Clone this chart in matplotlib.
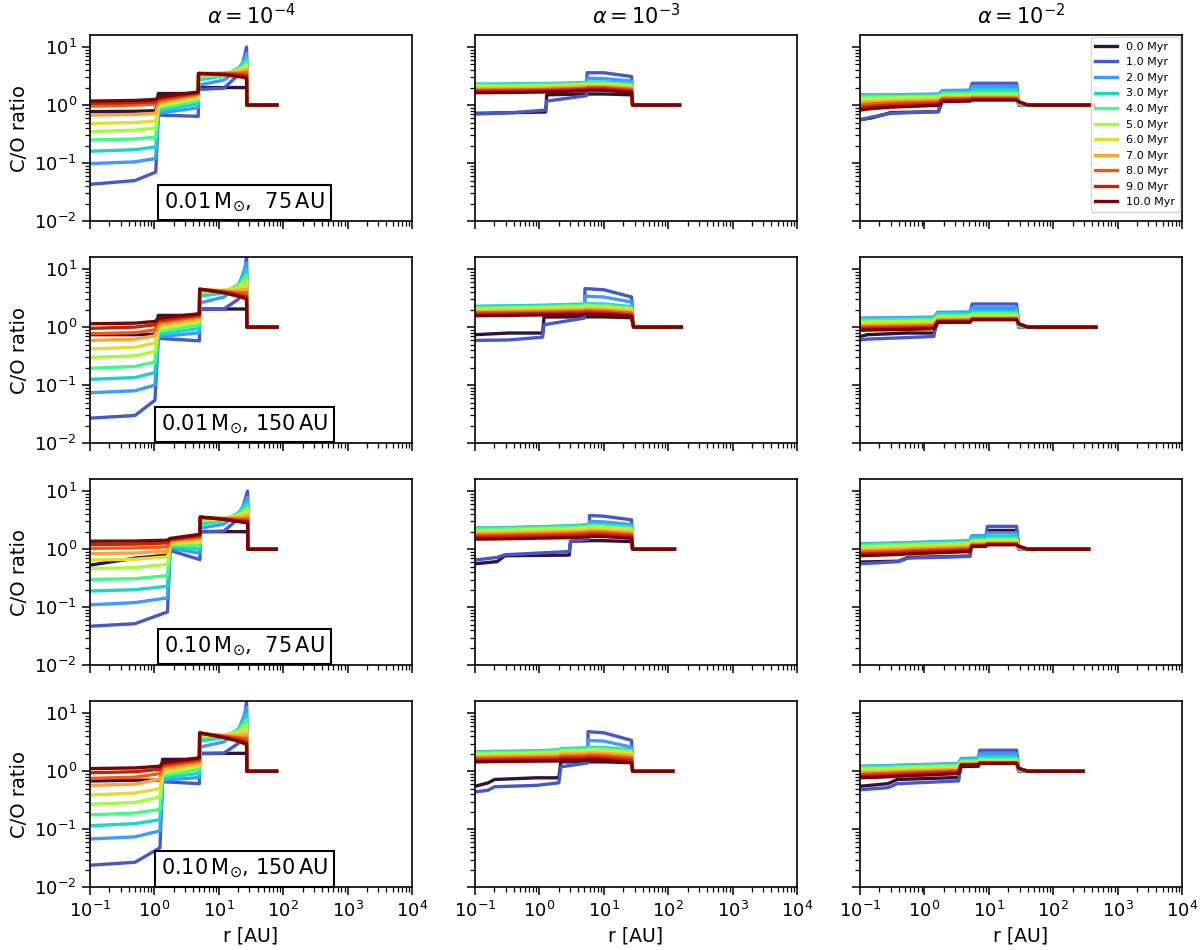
import matplotlib.pyplot as plt
import numpy as np

times = [0.0, 1.0, 2.0, 3.0, 4.0, 5.0, 6.0, 7.0, 8.0, 9.0, 10.0]
alpha_titles = [r"$\alpha = 10^{-4}$", r"$\alpha = 10^{-3}$", r"$\alpha = 10^{-2}$"]
disc_labels = [
    r"$0.01\,\mathrm{M}_{\odot}$,  $75\,\mathrm{AU}$",
    r"$0.01\,\mathrm{M}_{\odot}$, $150\,\mathrm{AU}$",
    r"$0.10\,\mathrm{M}_{\odot}$,  $75\,\mathrm{AU}$",
    r"$0.10\,\mathrm{M}_{\odot}$, $150\,\mathrm{AU}$",
]

# ---- alpha = 1e-4 (left column) ----
r_11 = [0.1, 0.5, 1.05, 1.15, 4.8, 4.85, 12, 20, 24, 27, 27.3, 80]
co_11 = [
    [0.77, 0.78, 0.80, 1.58, 1.58, 2.0, 2.0, 2.0, 2.0, 2.0, 1, 1],
    [0.043, 0.05, 0.07, 0.67, 0.64, 1.86, 1.95, 3.3, 5.6, 10.0, 1, 1],
    [0.098, 0.105, 0.12, 0.72, 0.9, 2.2, 2.7, 4.0, 5.5, 7.8, 1, 1],
    [0.16, 0.17, 0.19, 0.8, 1.05, 2.7, 3.2, 4.3, 5.3, 6.4, 1, 1],
    [0.25, 0.26, 0.28, 0.88, 1.2, 3.0, 3.3, 4.1, 4.8, 5.6, 1, 1],
    [0.35, 0.37, 0.40, 0.95, 1.3, 3.2, 3.4, 4.0, 4.5, 4.9, 1, 1],
    [0.48, 0.50, 0.53, 1.02, 1.4, 3.35, 3.5, 3.9, 4.2, 4.5, 1, 1],
    [0.67, 0.69, 0.72, 1.1, 1.5, 3.45, 3.5, 3.7, 3.85, 4.0, 1, 1],
    [0.96, 1.0, 1.04, 1.18, 1.55, 3.5, 3.5, 3.5, 3.55, 3.6, 1, 1],
    [1.07, 1.1, 1.14, 1.28, 1.62, 3.5, 3.4, 3.3, 3.27, 3.25, 1, 1],
    [1.17, 1.2, 1.25, 1.38, 1.68, 3.5, 3.35, 3.1, 3.0, 2.9, 1, 1],
]

r_21 = [0.1, 0.5, 1.02, 1.15, 5.0, 5.05, 12, 20, 24, 27, 27.3, 80]
co_21 = [
    [0.74, 0.74, 0.75, 1.59, 1.59, 2.05, 2.05, 2.05, 2.05, 2.05, 1, 1],
    [0.027, 0.030, 0.055, 0.64, 0.58, 2.0, 2.05, 3.0, 5.8, 16.0, 1, 1],
    [0.074, 0.08, 0.10, 0.68, 0.8, 2.6, 3.3, 5.0, 8.6, 12.8, 1, 1],
    [0.126, 0.135, 0.165, 0.75, 0.95, 3.4, 3.9, 5.4, 7.5, 9.8, 1, 1],
    [0.195, 0.21, 0.25, 0.83, 1.1, 3.9, 4.1, 5.2, 6.6, 8.0, 1, 1],
    [0.30, 0.32, 0.38, 0.92, 1.22, 4.1, 4.3, 4.9, 5.8, 6.6, 1, 1],
    [0.42, 0.45, 0.53, 1.0, 1.33, 4.3, 4.3, 4.5, 5.0, 5.4, 1, 1],
    [0.59, 0.62, 0.71, 1.1, 1.43, 4.4, 4.2, 4.25, 4.4, 4.5, 1, 1],
    [0.77, 0.80, 0.90, 1.2, 1.53, 4.5, 4.1, 3.9, 3.9, 3.9, 1, 1],
    [0.95, 1.0, 1.1, 1.3, 1.62, 4.5, 4.0, 3.6, 3.45, 3.4, 1, 1],
    [1.14, 1.17, 1.25, 1.42, 1.7, 4.5, 3.9, 3.4, 3.2, 3.05, 1, 1],
]

r_31 = [0.1, 0.5, 1.6, 1.75, 5.1, 5.15, 12, 20, 24, 28, 28.3, 78]
co_31 = [
    [0.53, 0.70, 0.79, 1.5, 1.52, 2.0, 2.0, 2.0, 2.0, 2.0, 1, 1],
    [0.047, 0.052, 0.083, 0.95, 0.66, 2.0, 2.05, 3.3, 5.6, 10.0, 1, 1],
    [0.11, 0.12, 0.145, 1.05, 0.85, 2.3, 2.7, 4.0, 5.5, 7.8, 1, 1],
    [0.19, 0.20, 0.23, 1.12, 1.0, 2.7, 3.1, 4.2, 5.2, 6.4, 1, 1],
    [0.30, 0.31, 0.35, 1.18, 1.15, 3.0, 3.2, 4.0, 4.7, 5.5, 1, 1],
    [0.46, 0.48, 0.55, 1.25, 1.3, 3.2, 3.3, 3.9, 4.3, 4.8, 1, 1],
    [0.65, 0.67, 0.74, 1.3, 1.42, 3.35, 3.4, 3.7, 4.0, 4.3, 1, 1],
    [0.84, 0.86, 0.92, 1.36, 1.52, 3.45, 3.4, 3.5, 3.65, 3.8, 1, 1],
    [1.03, 1.05, 1.1, 1.42, 1.6, 3.5, 3.35, 3.3, 3.3, 3.35, 1, 1],
    [1.2, 1.22, 1.28, 1.48, 1.7, 3.55, 3.3, 3.1, 3.05, 3.05, 1, 1],
    [1.37, 1.38, 1.43, 1.53, 1.8, 3.6, 3.25, 3.0, 2.9, 2.85, 1, 1],
]

r_41 = [0.1, 0.5, 1.22, 1.34, 5.0, 5.05, 12, 20, 24, 27, 27.3, 79]
co_41 = [
    [0.68, 0.70, 0.70, 1.6, 1.6, 2.03, 2.03, 2.03, 2.03, 2.03, 1, 1],
    [0.024, 0.027, 0.048, 0.66, 0.61, 2.0, 2.05, 3.0, 5.8, 16.0, 1, 1],
    [0.068, 0.074, 0.094, 0.7, 0.78, 2.6, 3.2, 4.9, 8.4, 12.5, 1, 1],
    [0.115, 0.125, 0.146, 0.76, 0.92, 3.3, 3.8, 5.3, 7.3, 9.6, 1, 1],
    [0.177, 0.19, 0.22, 0.84, 1.07, 3.8, 4.0, 5.1, 6.4, 7.8, 1, 1],
    [0.27, 0.29, 0.36, 0.92, 1.2, 4.1, 4.2, 4.8, 5.6, 6.4, 1, 1],
    [0.39, 0.42, 0.50, 1.0, 1.3, 4.3, 4.2, 4.4, 4.8, 5.2, 1, 1],
    [0.57, 0.60, 0.73, 1.1, 1.4, 4.4, 4.1, 4.1, 4.2, 4.3, 1, 1],
    [0.75, 0.79, 0.91, 1.2, 1.5, 4.5, 4.0, 3.8, 3.7, 3.7, 1, 1],
    [0.94, 0.98, 1.08, 1.3, 1.6, 4.55, 3.9, 3.5, 3.3, 3.2, 1, 1],
    [1.11, 1.14, 1.22, 1.42, 1.7, 4.6, 3.8, 3.3, 3.05, 2.9, 1, 1],
]

# ---- alpha = 1e-3 (middle column) ----
r_12 = [0.1, 0.4, 1.25, 1.3, 5.4, 5.5, 10, 27, 28, 150]
co_12 = [
    [0.72, 0.74, 0.76, 1.5, 1.55, 1.55, 1.55, 1.5, 1, 1],
    [0.70, 0.74, 0.82, 1.17, 1.45, 3.6, 3.6, 3.1, 1, 1],
    [2.25, 2.27, 2.3, 2.3, 2.4, 2.9, 2.85, 2.6, 1, 1],
    [2.3, 2.32, 2.35, 2.35, 2.45, 2.5, 2.5, 2.35, 1, 1],
    [2.2, 2.22, 2.25, 2.25, 2.35, 2.4, 2.4, 2.25, 1, 1],
    [2.1, 2.12, 2.15, 2.15, 2.25, 2.3, 2.3, 2.15, 1, 1],
    [2.0, 2.02, 2.05, 2.05, 2.15, 2.2, 2.2, 2.05, 1, 1],
    [1.9, 1.92, 1.95, 1.95, 2.05, 2.1, 2.1, 1.95, 1, 1],
    [1.8, 1.82, 1.85, 1.85, 1.95, 2.0, 2.0, 1.85, 1, 1],
    [1.72, 1.74, 1.77, 1.77, 1.86, 1.9, 1.9, 1.75, 1, 1],
    [1.63, 1.65, 1.68, 1.68, 1.77, 1.8, 1.8, 1.65, 1, 1],
]

r_22 = [0.1, 0.33, 1.12, 1.18, 5.0, 5.1, 10, 27, 29, 160]
co_22 = [
    [0.74, 0.79, 0.79, 1.49, 1.5, 1.5, 1.5, 1.45, 1, 1],
    [0.59, 0.60, 0.67, 1.1, 1.43, 4.6, 4.4, 3.3, 1, 1],
    [2.25, 2.3, 2.35, 2.35, 2.45, 3.4, 3.3, 2.7, 1, 1],
    [2.28, 2.32, 2.38, 2.38, 2.5, 2.55, 2.5, 2.25, 1, 1],
    [2.15, 2.2, 2.26, 2.26, 2.38, 2.42, 2.38, 2.15, 1, 1],
    [2.05, 2.1, 2.15, 2.15, 2.25, 2.3, 2.25, 2.05, 1, 1],
    [1.95, 2.0, 2.04, 2.04, 2.13, 2.17, 2.13, 1.95, 1, 1],
    [1.85, 1.9, 1.93, 1.93, 2.0, 2.05, 2.0, 1.85, 1, 1],
    [1.75, 1.78, 1.82, 1.82, 1.88, 1.92, 1.88, 1.73, 1, 1],
    [1.66, 1.68, 1.72, 1.72, 1.77, 1.8, 1.76, 1.62, 1, 1],
    [1.57, 1.59, 1.62, 1.62, 1.66, 1.68, 1.65, 1.53, 1, 1],
]

r_32 = [0.1, 0.22, 0.29, 2.9, 3.05, 5.9, 6.0, 10, 27, 28, 125]
co_32 = [
    [0.56, 0.61, 0.77, 0.79, 1.36, 1.4, 1.4, 1.4, 1.35, 1, 1],
    [0.65, 0.72, 0.80, 0.91, 1.36, 1.5, 3.8, 3.7, 3.2, 1, 1],
    [2.28, 2.3, 2.32, 2.5, 2.5, 2.62, 3.0, 2.95, 2.64, 1, 1],
    [2.31, 2.33, 2.35, 2.52, 2.52, 2.64, 2.68, 2.65, 2.45, 1, 1],
    [2.2, 2.22, 2.24, 2.4, 2.4, 2.5, 2.55, 2.52, 2.32, 1, 1],
    [2.08, 2.1, 2.12, 2.27, 2.27, 2.37, 2.4, 2.38, 2.2, 1, 1],
    [1.97, 1.99, 2.0, 2.14, 2.14, 2.23, 2.26, 2.24, 2.07, 1, 1],
    [1.85, 1.87, 1.88, 2.0, 2.0, 2.08, 2.11, 2.09, 1.93, 1, 1],
    [1.73, 1.75, 1.76, 1.86, 1.86, 1.93, 1.96, 1.94, 1.8, 1, 1],
    [1.61, 1.63, 1.64, 1.72, 1.72, 1.78, 1.81, 1.79, 1.67, 1, 1],
    [1.49, 1.5, 1.51, 1.58, 1.58, 1.64, 1.66, 1.65, 1.54, 1, 1],
]

r_42 = [0.1, 0.16, 0.2, 0.9, 2.0, 2.15, 5.6, 5.7, 10, 27, 28, 118]
co_42 = [
    [0.55, 0.63, 0.72, 0.77, 0.77, 1.45, 1.45, 1.45, 1.45, 1.4, 1, 1],
    [0.44, 0.47, 0.54, 0.57, 0.63, 1.19, 1.39, 4.8, 4.6, 3.4, 1, 1],
    [2.1, 2.12, 2.14, 2.2, 2.3, 2.4, 2.5, 3.4, 3.3, 2.6, 1, 1],
    [2.16, 2.18, 2.2, 2.25, 2.32, 2.45, 2.52, 2.6, 2.55, 2.35, 1, 1],
    [2.07, 2.08, 2.1, 2.15, 2.22, 2.34, 2.4, 2.48, 2.43, 2.25, 1, 1],
    [1.97, 1.98, 2.0, 2.05, 2.1, 2.22, 2.28, 2.35, 2.3, 2.12, 1, 1],
    [1.87, 1.88, 1.9, 1.94, 1.98, 2.1, 2.15, 2.22, 2.17, 2.0, 1, 1],
    [1.77, 1.78, 1.8, 1.83, 1.86, 1.96, 2.0, 2.06, 2.02, 1.85, 1, 1],
    [1.66, 1.67, 1.68, 1.71, 1.74, 1.82, 1.85, 1.9, 1.86, 1.7, 1, 1],
    [1.55, 1.56, 1.57, 1.6, 1.62, 1.68, 1.7, 1.74, 1.7, 1.55, 1, 1],
    [1.45, 1.46, 1.47, 1.49, 1.5, 1.55, 1.55, 1.58, 1.55, 1.4, 1, 1],
]

# ---- alpha = 1e-2 (right column) ----
r_13 = [0.1, 0.15, 0.3, 1.65, 1.9, 5.1, 5.5, 27, 29, 40, 430]
co_13 = [
    [0.56, 0.60, 0.74, 0.77, 1.2, 1.22, 2.0, 2.0, 1.0, 1, 1],
    [0.55, 0.62, 0.72, 0.77, 1.75, 1.78, 2.37, 2.37, 1.0, 1, 1],
    [1.5, 1.5, 1.5, 1.55, 1.78, 1.8, 2.1, 2.1, 1.0, 1, 1],
    [1.46, 1.46, 1.46, 1.5, 1.66, 1.68, 1.85, 1.85, 1.05, 1, 1],
    [1.38, 1.39, 1.4, 1.44, 1.56, 1.58, 1.65, 1.65, 1.08, 1, 1],
    [1.3, 1.31, 1.33, 1.37, 1.48, 1.5, 1.52, 1.52, 1.1, 1, 1],
    [1.2, 1.22, 1.25, 1.3, 1.4, 1.42, 1.44, 1.44, 1.1, 1, 1],
    [1.1, 1.13, 1.17, 1.22, 1.33, 1.35, 1.37, 1.37, 1.12, 1, 1],
    [1.0, 1.04, 1.08, 1.14, 1.27, 1.29, 1.31, 1.31, 1.13, 1, 1],
    [0.9, 0.95, 1.0, 1.06, 1.21, 1.23, 1.26, 1.26, 1.14, 1, 1],
    [0.82, 0.87, 0.92, 0.99, 1.15, 1.17, 1.22, 1.22, 1.15, 1, 1],
]

r_23 = [0.1, 0.13, 0.53, 1.4, 1.6, 5.1, 5.5, 27, 29, 40, 460]
co_23 = [
    [0.69, 0.74, 0.79, 0.79, 1.2, 1.22, 2.1, 2.1, 1.0, 1, 1],
    [0.60, 0.62, 0.66, 0.69, 1.75, 1.78, 2.5, 2.5, 1.0, 1, 1],
    [1.43, 1.44, 1.46, 1.49, 1.8, 1.82, 2.15, 2.15, 1.0, 1, 1],
    [1.38, 1.39, 1.41, 1.44, 1.7, 1.72, 1.9, 1.9, 1.05, 1, 1],
    [1.3, 1.31, 1.33, 1.36, 1.6, 1.62, 1.72, 1.72, 1.08, 1, 1],
    [1.22, 1.23, 1.25, 1.28, 1.5, 1.52, 1.6, 1.6, 1.1, 1, 1],
    [1.14, 1.15, 1.17, 1.2, 1.42, 1.44, 1.52, 1.52, 1.1, 1, 1],
    [1.07, 1.08, 1.1, 1.12, 1.36, 1.37, 1.45, 1.45, 1.12, 1, 1],
    [1.0, 1.01, 1.03, 1.05, 1.3, 1.31, 1.4, 1.4, 1.13, 1, 1],
    [0.94, 0.95, 0.97, 0.99, 1.25, 1.26, 1.36, 1.36, 1.14, 1, 1],
    [0.88, 0.89, 0.91, 0.94, 1.22, 1.22, 1.34, 1.34, 1.15, 1, 1],
]

r_33 = [0.1, 0.4, 0.55, 5.1, 5.4, 9.0, 9.5, 27, 29, 40, 355]
co_33 = [
    [0.60, 0.62, 0.72, 0.76, 1.3, 1.32, 2.1, 2.1, 1.0, 1, 1],
    [0.56, 0.61, 0.70, 0.75, 1.66, 1.66, 2.47, 2.47, 1.0, 1, 1],
    [1.24, 1.28, 1.3, 1.4, 1.7, 1.72, 1.9, 1.9, 1.0, 1, 1],
    [1.22, 1.26, 1.28, 1.37, 1.55, 1.56, 1.66, 1.66, 1.04, 1, 1],
    [1.16, 1.2, 1.22, 1.31, 1.45, 1.46, 1.52, 1.52, 1.06, 1, 1],
    [1.1, 1.14, 1.16, 1.24, 1.37, 1.38, 1.42, 1.42, 1.08, 1, 1],
    [1.03, 1.07, 1.09, 1.17, 1.3, 1.31, 1.35, 1.35, 1.1, 1, 1],
    [0.96, 1.0, 1.02, 1.1, 1.24, 1.25, 1.29, 1.29, 1.1, 1, 1],
    [0.89, 0.93, 0.95, 1.03, 1.18, 1.19, 1.24, 1.24, 1.11, 1, 1],
    [0.83, 0.87, 0.89, 0.97, 1.14, 1.15, 1.21, 1.21, 1.12, 1, 1],
    [0.77, 0.81, 0.83, 0.91, 1.11, 1.12, 1.19, 1.19, 1.13, 1, 1],
]

r_43 = [0.1, 0.27, 0.38, 3.4, 3.7, 6.9, 7.2, 27, 29, 40, 290]
co_43 = [
    [0.55, 0.61, 0.72, 0.78, 1.2, 1.22, 2.0, 2.0, 1.0, 1, 1],
    [0.48, 0.52, 0.61, 0.68, 1.45, 1.47, 2.3, 2.3, 1.0, 1, 1],
    [1.22, 1.25, 1.27, 1.36, 1.66, 1.68, 2.0, 2.0, 1.0, 1, 1],
    [1.2, 1.23, 1.25, 1.33, 1.58, 1.6, 1.77, 1.77, 1.04, 1, 1],
    [1.14, 1.17, 1.19, 1.27, 1.5, 1.52, 1.62, 1.62, 1.06, 1, 1],
    [1.08, 1.11, 1.13, 1.21, 1.44, 1.45, 1.53, 1.53, 1.08, 1, 1],
    [1.01, 1.04, 1.06, 1.14, 1.39, 1.4, 1.47, 1.47, 1.1, 1, 1],
    [0.95, 0.98, 1.0, 1.08, 1.35, 1.36, 1.43, 1.43, 1.1, 1, 1],
    [0.89, 0.92, 0.94, 1.02, 1.31, 1.32, 1.4, 1.4, 1.11, 1, 1],
    [0.83, 0.86, 0.88, 0.96, 1.29, 1.3, 1.38, 1.38, 1.12, 1, 1],
    [0.77, 0.8, 0.82, 0.91, 1.27, 1.28, 1.36, 1.36, 1.13, 1, 1],
]

r_grid = [[r_11, r_12, r_13], [r_21, r_22, r_23], [r_31, r_32, r_33], [r_41, r_42, r_43]]
co_grid = [[co_11, co_12, co_13], [co_21, co_22, co_23], [co_31, co_32, co_33], [co_41, co_42, co_43]]


def main():
    plt.rcParams["mathtext.fontset"] = "dejavusans"
    fig, axes = plt.subplots(4, 3, figsize=(12, 9.5), dpi=100, sharex=True, sharey=True)
    fig.subplots_adjust(left=0.075, right=0.985, bottom=0.066, top=0.963,
                        wspace=0.196, hspace=0.194)
    colors = plt.cm.turbo(np.linspace(0, 1, len(times)))

    for i in range(4):
        for j in range(3):
            ax = axes[i, j]
            r = r_grid[i][j]
            for k, t in enumerate(times):
                ax.plot(r, co_grid[i][j][k], color=colors[k], lw=2.4,
                        label="%.1f Myr" % t)
            ax.set_xscale("log")
            ax.set_yscale("log")
            ax.set_xlim(1e-1, 1e4)
            ax.set_ylim(1e-2, 16)
            ax.set_xticks([1e-1, 1e0, 1e1, 1e2, 1e3, 1e4])
            ax.set_yticks([1e-2, 1e-1, 1e0, 1e1])
            ax.tick_params(which="major", length=6, width=1.1, labelsize=13)
            ax.tick_params(which="minor", length=3.5, width=0.9)
            for s in ax.spines.values():
                s.set_linewidth(1.2)
            if i == 0:
                ax.set_title(alpha_titles[j], fontsize=15, pad=8)
            if j == 0:
                ax.set_ylabel("C/O ratio", fontsize=14)
                ax.text(0.48, 0.1, disc_labels[i], transform=ax.transAxes,
                        ha="center", va="center", fontsize=15,
                        bbox=dict(boxstyle="square,pad=0.3", fc="white",
                                  ec="black", lw=1.5))
            if i == 3:
                ax.set_xlabel("r [AU]", fontsize=13.5)

    axes[0, 2].legend(loc="upper right", fontsize=8, handlelength=2.0,
                      borderaxespad=0.2)
    plt.savefig("out.png", dpi=100)


if __name__ == "__main__":
    main()
